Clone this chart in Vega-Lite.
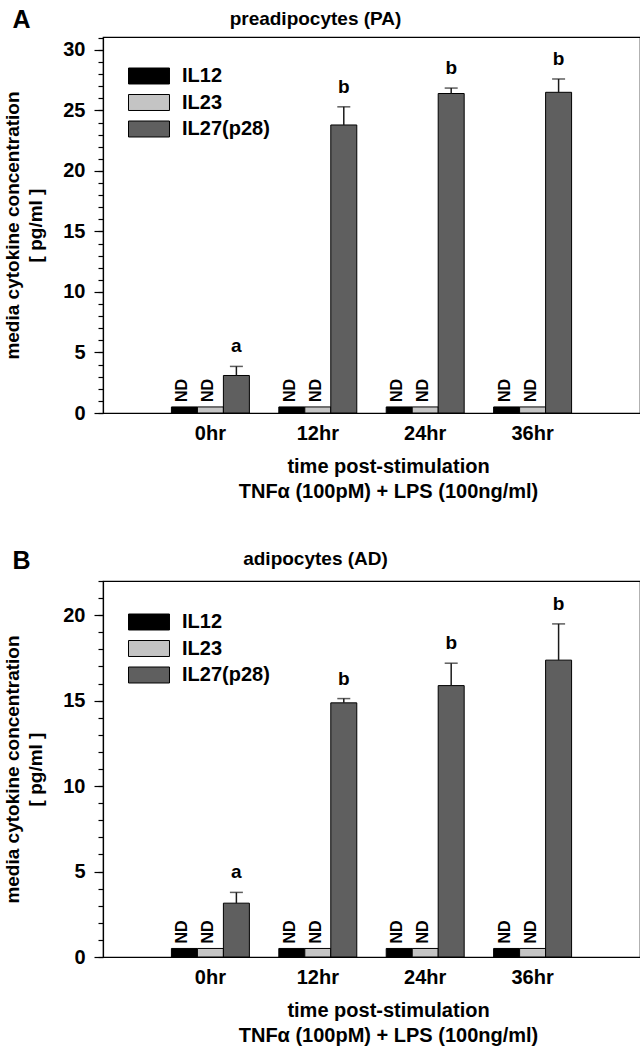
{
  "$schema": "https://vega.github.io/schema/vega-lite/v6.json",
  "padding": {"left": 3, "top": 6, "right": 2, "bottom": 2},
  "datasets": {
    "pa": [
      {"time": "0hr", "cytokine": "IL12", "value": 0.5, "nd": "ND"},
      {"time": "0hr", "cytokine": "IL23", "value": 0.5, "nd": "ND"},
      {"time": "0hr", "cytokine": "IL27(p28)", "value": 3.1, "upper": 3.85, "sig": "a"},
      {"time": "12hr", "cytokine": "IL12", "value": 0.5, "nd": "ND"},
      {"time": "12hr", "cytokine": "IL23", "value": 0.5, "nd": "ND"},
      {"time": "12hr", "cytokine": "IL27(p28)", "value": 23.8, "upper": 25.3, "sig": "b"},
      {"time": "24hr", "cytokine": "IL12", "value": 0.5, "nd": "ND"},
      {"time": "24hr", "cytokine": "IL23", "value": 0.5, "nd": "ND"},
      {"time": "24hr", "cytokine": "IL27(p28)", "value": 26.4, "upper": 26.85, "sig": "b"},
      {"time": "36hr", "cytokine": "IL12", "value": 0.5, "nd": "ND"},
      {"time": "36hr", "cytokine": "IL23", "value": 0.5, "nd": "ND"},
      {"time": "36hr", "cytokine": "IL27(p28)", "value": 26.5, "upper": 27.6, "sig": "b"}
    ],
    "ad": [
      {"time": "0hr", "cytokine": "IL12", "value": 0.5, "nd": "ND"},
      {"time": "0hr", "cytokine": "IL23", "value": 0.5, "nd": "ND"},
      {"time": "0hr", "cytokine": "IL27(p28)", "value": 3.15, "upper": 3.78, "sig": "a"},
      {"time": "12hr", "cytokine": "IL12", "value": 0.5, "nd": "ND"},
      {"time": "12hr", "cytokine": "IL23", "value": 0.5, "nd": "ND"},
      {"time": "12hr", "cytokine": "IL27(p28)", "value": 14.87, "upper": 15.12, "sig": "b"},
      {"time": "24hr", "cytokine": "IL12", "value": 0.5, "nd": "ND"},
      {"time": "24hr", "cytokine": "IL23", "value": 0.5, "nd": "ND"},
      {"time": "24hr", "cytokine": "IL27(p28)", "value": 15.88, "upper": 17.19, "sig": "b"},
      {"time": "36hr", "cytokine": "IL12", "value": 0.5, "nd": "ND"},
      {"time": "36hr", "cytokine": "IL23", "value": 0.5, "nd": "ND"},
      {"time": "36hr", "cytokine": "IL27(p28)", "value": 17.37, "upper": 19.49, "sig": "b"}
    ]
  },
  "config": {
    "font": "Liberation Sans",
    "view": {"stroke": "black", "strokeWidth": 1.2},
    "axis": {"labelFontWeight": "bold", "titleFontWeight": "bold", "labelColor": "black", "titleColor": "black", "domainColor": "black", "tickColor": "black", "grid": false, "domainWidth": 1.2, "tickWidth": 1.2},
    "legend": {"title": null, "orient": "none", "legendX": 35, "legendY": 28, "padding": 0, "symbolType": "M-2,-0.78H2V0.78H-2Z", "symbolSize": 420, "symbolStrokeColor": "black", "symbolStrokeWidth": 1, "symbolOpacity": 1, "labelFontSize": 20, "labelFontWeight": "bold", "labelOffset": 22, "rowPadding": 5.5, "labelColor": "black"},
    "concat": {"spacing": 45}
  },
  "resolve": {"scale": {"color": "independent"}, "legend": {"color": "independent"}},
  "vconcat": [
    {
      "width": 537,
      "height": 376,
      "data": {"name": "pa"},
      "resolve": {"axis": {"y": "independent"}},
      "layer": [
        {
          "mark": {"type": "bar", "stroke": "black", "strokeWidth": 1},
          "encoding": {
            "x": {"field": "time", "type": "nominal", "sort": ["0hr", "12hr", "24hr", "36hr"], "scale": {"paddingInner": 0.274, "paddingOuter": 0.637},
              "axis": {"title": ["time post-stimulation", "TNFα (100pM) + LPS (100ng/ml)"], "labelAngle": 0, "ticks": false, "labelFontSize": 20, "labelPadding": 10, "titleFontSize": 20, "titleLineHeight": 25, "titlePadding": 13, "titleX": 285}},
            "xOffset": {"field": "cytokine", "type": "nominal", "scale": {"domain": ["IL12", "IL23", "IL27(p28)"], "paddingInner": 0, "paddingOuter": 0}},
            "y": {"field": "value", "type": "quantitative", "scale": {"domain": [0, 31.07], "nice": false},
              "axis": {"orient": "left", "values": [0, 5, 10, 15, 20, 25, 30], "tickSize": 9, "labelFontSize": 20, "labelPadding": 9, "title": ["media cytokine concentration", "[ pg/ml ]"], "titleFontSize": 19, "titlePadding": 17, "titleLineHeight": 23}},
            "color": {"field": "cytokine", "type": "nominal", "scale": {"domain": ["IL12", "IL23", "IL27(p28)"], "range": ["#000000", "#c4c4c4", "#5f5f5f"]}}
          }
        },
        {
          "transform": [{"filter": "isValid(datum.upper)"}],
          "mark": {"type": "rule", "color": "#1a1a1a", "strokeWidth": 1.5},
          "encoding": {
            "x": {"field": "time", "type": "nominal", "sort": ["0hr", "12hr", "24hr", "36hr"]},
            "xOffset": {"field": "cytokine", "type": "nominal", "scale": {"domain": ["IL12", "IL23", "IL27(p28)"]}},
            "y": {"field": "value", "type": "quantitative", "scale": {"domain": [0, 31.07], "nice": false},
              "axis": {"orient": "left", "values": [0,1,2,3,4,5,6,7,8,9,10,11,12,13,14,15,16,17,18,19,20,21,22,23,24,25,26,27,28,29,30,31], "labels": false, "tickSize": 5, "domain": false, "title": "A", "titleAngle": 0, "titleX": -91, "titleY": -10, "titleAlign": "left", "titleBaseline": "alphabetic", "titleFontSize": 25}},
            "y2": {"field": "upper"}
          }
        },
        {
          "transform": [{"filter": "isValid(datum.upper)"}],
          "mark": {"type": "tick", "color": "#1a1a1a", "size": 13, "thickness": 1.5},
          "encoding": {
            "x": {"field": "time", "type": "nominal", "sort": ["0hr", "12hr", "24hr", "36hr"]},
            "xOffset": {"field": "cytokine", "type": "nominal", "scale": {"domain": ["IL12", "IL23", "IL27(p28)"]}},
            "y": {"field": "upper", "type": "quantitative",
              "axis": {"orient": "left", "labels": false, "ticks": false, "domain": false, "title": "preadipocytes (PA)", "titleAngle": 0, "titleX": 212, "titleY": -13, "titleAlign": "center", "titleBaseline": "alphabetic", "titleFontSize": 19}}
          }
        },
        {
          "transform": [{"filter": "isValid(datum.sig)"}],
          "mark": {"type": "text", "fontSize": 19, "fontWeight": "bold", "baseline": "alphabetic", "dy": -14, "color": "black"},
          "encoding": {
            "x": {"field": "time", "type": "nominal", "sort": ["0hr", "12hr", "24hr", "36hr"]},
            "xOffset": {"field": "cytokine", "type": "nominal", "scale": {"domain": ["IL12", "IL23", "IL27(p28)"]}},
            "y": {"field": "upper", "type": "quantitative", "axis": null},
            "text": {"field": "sig"}
          }
        },
        {
          "transform": [{"filter": "isValid(datum.nd)"}],
          "mark": {"type": "text", "fontSize": 16, "fontWeight": "bold", "angle": 270, "align": "left", "baseline": "middle", "dx": 5, "dy": -2, "color": "black"},
          "encoding": {
            "x": {"field": "time", "type": "nominal", "sort": ["0hr", "12hr", "24hr", "36hr"]},
            "xOffset": {"field": "cytokine", "type": "nominal", "scale": {"domain": ["IL12", "IL23", "IL27(p28)"]}},
            "y": {"field": "value", "type": "quantitative", "axis": null},
            "text": {"field": "nd"}
          }
        }
      ]
    },
    {
      "width": 537,
      "height": 376,
      "data": {"name": "ad"},
      "resolve": {"axis": {"y": "independent"}},
      "layer": [
        {
          "mark": {"type": "bar", "stroke": "black", "strokeWidth": 1},
          "encoding": {
            "x": {"field": "time", "type": "nominal", "sort": ["0hr", "12hr", "24hr", "36hr"], "scale": {"paddingInner": 0.274, "paddingOuter": 0.637},
              "axis": {"title": ["time post-stimulation", "TNFα (100pM) + LPS (100ng/ml)"], "labelAngle": 0, "ticks": false, "labelFontSize": 20, "labelPadding": 10, "titleFontSize": 20, "titleLineHeight": 25, "titlePadding": 13, "titleX": 285}},
            "xOffset": {"field": "cytokine", "type": "nominal", "scale": {"domain": ["IL12", "IL23", "IL27(p28)"], "paddingInner": 0, "paddingOuter": 0}},
            "y": {"field": "value", "type": "quantitative", "scale": {"domain": [0, 22], "nice": false},
              "axis": {"orient": "left", "values": [0, 5, 10, 15, 20], "tickSize": 9, "labelFontSize": 20, "labelPadding": 9, "title": ["media cytokine concentration", "[ pg/ml ]"], "titleFontSize": 19, "titlePadding": 17, "titleLineHeight": 23}},
            "color": {"field": "cytokine", "type": "nominal", "scale": {"domain": ["IL12", "IL23", "IL27(p28)"], "range": ["#000000", "#c4c4c4", "#5f5f5f"]}, "legend": {"legendY": 30}}
          }
        },
        {
          "transform": [{"filter": "isValid(datum.upper)"}],
          "mark": {"type": "rule", "color": "#1a1a1a", "strokeWidth": 1.5},
          "encoding": {
            "x": {"field": "time", "type": "nominal", "sort": ["0hr", "12hr", "24hr", "36hr"]},
            "xOffset": {"field": "cytokine", "type": "nominal", "scale": {"domain": ["IL12", "IL23", "IL27(p28)"]}},
            "y": {"field": "value", "type": "quantitative", "scale": {"domain": [0, 22], "nice": false},
              "axis": {"orient": "left", "values": [0,1,2,3,4,5,6,7,8,9,10,11,12,13,14,15,16,17,18,19,20,21,22], "labels": false, "tickSize": 5, "domain": false, "title": "B", "titleAngle": 0, "titleX": -91, "titleY": -13, "titleAlign": "left", "titleBaseline": "alphabetic", "titleFontSize": 25}},
            "y2": {"field": "upper"}
          }
        },
        {
          "transform": [{"filter": "isValid(datum.upper)"}],
          "mark": {"type": "tick", "color": "#1a1a1a", "size": 13, "thickness": 1.5},
          "encoding": {
            "x": {"field": "time", "type": "nominal", "sort": ["0hr", "12hr", "24hr", "36hr"]},
            "xOffset": {"field": "cytokine", "type": "nominal", "scale": {"domain": ["IL12", "IL23", "IL27(p28)"]}},
            "y": {"field": "upper", "type": "quantitative",
              "axis": {"orient": "left", "labels": false, "ticks": false, "domain": false, "title": "adipocytes (AD)", "titleAngle": 0, "titleX": 212, "titleY": -17, "titleAlign": "center", "titleBaseline": "alphabetic", "titleFontSize": 19}}
          }
        },
        {
          "transform": [{"filter": "isValid(datum.sig)"}],
          "mark": {"type": "text", "fontSize": 19, "fontWeight": "bold", "baseline": "alphabetic", "dy": -14, "color": "black"},
          "encoding": {
            "x": {"field": "time", "type": "nominal", "sort": ["0hr", "12hr", "24hr", "36hr"]},
            "xOffset": {"field": "cytokine", "type": "nominal", "scale": {"domain": ["IL12", "IL23", "IL27(p28)"]}},
            "y": {"field": "upper", "type": "quantitative", "axis": null},
            "text": {"field": "sig"}
          }
        },
        {
          "transform": [{"filter": "isValid(datum.nd)"}],
          "mark": {"type": "text", "fontSize": 16, "fontWeight": "bold", "angle": 270, "align": "left", "baseline": "middle", "dx": 5, "dy": -2, "color": "black"},
          "encoding": {
            "x": {"field": "time", "type": "nominal", "sort": ["0hr", "12hr", "24hr", "36hr"]},
            "xOffset": {"field": "cytokine", "type": "nominal", "scale": {"domain": ["IL12", "IL23", "IL27(p28)"]}},
            "y": {"field": "value", "type": "quantitative", "axis": null},
            "text": {"field": "nd"}
          }
        }
      ]
    }
  ]
}
